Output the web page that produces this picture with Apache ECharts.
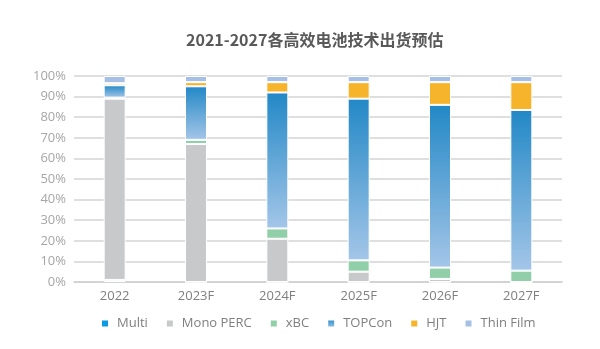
<!DOCTYPE html>
<html>
<head>
<meta charset="utf-8">
<script src="https://cdn.jsdelivr.net/npm/echarts@6/dist/echarts.min.js"></script>
<style>
html,body{margin:0;padding:0;background:#fff;}
#c{width:600px;height:349px;}
</style>
</head>
<body>
<div id="c"></div>
<script>
var categories = ['2022', '2023F', '2024F', '2025F', '2026F', '2027F'];
var multi     = [1,    0,  0,    0,    0,    0];
var monoPerc  = [88,  67, 21,    5,  1.5,    0];
var xbc       = [0.5,  2,  5,  5.5,  5.5,  5.5];
var topcon    = [6,   26, 66, 78.5,   79,   78];
var hjt       = [1,    2,  5,    8,   11, 13.5];
var thinFilm  = [3.5,  3,  3,    3,    3,    3];
var yTicks = [0, 100, 10];

var chart = echarts.init(document.getElementById('c'), null, {renderer: 'canvas'});
var fontFam = '"Open Sans", "Noto Sans", sans-serif';
function seriesOf(name, data, color) {
  return {
    name: name, type: 'bar', stack: 'total', data: data, barWidth: 22,
    itemStyle: {color: color, borderColor: '#ffffff', borderWidth: 1},
    emphasis: {disabled: true}
  };
}
var topconGrad = {type: 'linear', x: 0, y: 0, x2: 0, y2: 1,
  colorStops: [{offset: 0, color: '#2288c6'}, {offset: 1, color: '#a4c6e8'}]};
chart.setOption({
  animation: false,
  backgroundColor: '#ffffff',
  title: {
    text: '2021-2027各高效电池技术出货预估',
    left: 186, top: 32, padding: 0,
    textStyle: {fontFamily: '"Noto Sans CJK SC", sans-serif', fontSize: 16, fontWeight: 'bold', color: '#595959'}
  },
  legend: {
    left: 95, top: 312, itemWidth: 8, itemHeight: 8, itemGap: 17,
    icon: 'rect',
    textStyle: {fontFamily: fontFam, fontSize: 13, color: '#7f7f7f', padding: [0,0,0,3]},
    data: ['Multi', 'Mono PERC', 'xBC', 'TOPCon', 'HJT', 'Thin Film']
  },
  grid: {left: 74, right: 38, top: 76, bottom: 67, containLabel: false},
  xAxis: {
    type: 'category', data: categories,
    axisLine: {lineStyle: {color: '#d0d0d0', width: 1.5}},
    axisTick: {show: false},
    axisLabel: {fontFamily: fontFam, fontSize: 13, color: '#7f7f7f', margin: 8}
  },
  yAxis: {
    type: 'value', min: yTicks[0], max: yTicks[1], interval: yTicks[2],
    axisLine: {show: false}, axisTick: {show: false},
    axisLabel: {formatter: '{value}%', fontFamily: fontFam, fontSize: 13, color: '#a6a6a6', margin: 8},
    splitLine: {lineStyle: {color: '#d4d4d4', width: 1.5}}
  },
  series: [
    seriesOf('Multi', multi, '#0b9be0'),
    seriesOf('Mono PERC', monoPerc, '#c8c9ca'),
    seriesOf('xBC', xbc, '#90cfa8'),
    seriesOf('TOPCon', topcon, topconGrad),
    seriesOf('HJT', hjt, '#f6b42b'),
    seriesOf('Thin Film', thinFilm, '#a6bfe4')
  ]
});
</script>
</body>
</html>
